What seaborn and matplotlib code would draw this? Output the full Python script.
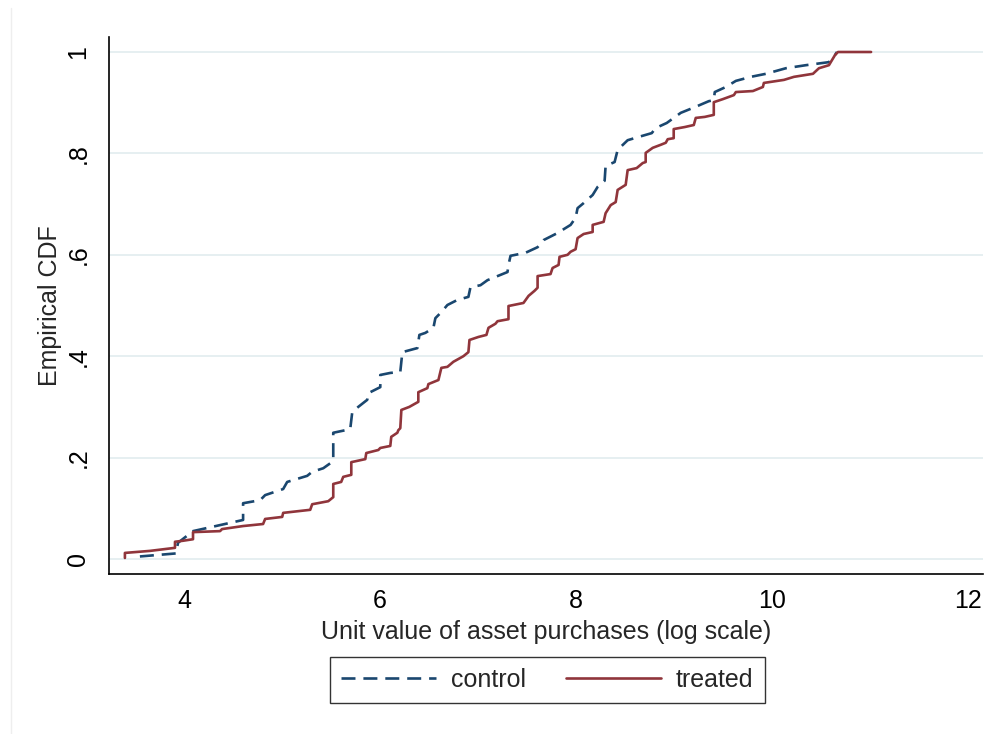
import matplotlib
matplotlib.use("Agg")
import matplotlib.pyplot as plt
from matplotlib.lines import Line2D
import seaborn as sns
import pandas as pd

# ---- data (vertices of the empirical CDF curves) ----
control_x = [3.550, 3.918, 3.939, 4.092, 4.603, 4.603, 4.777, 4.828, 5.012, 5.053,
             5.257, 5.308, 5.421, 5.523, 5.523, 5.696, 5.717, 5.778, 5.870, 5.880,
             6.003, 6.003, 6.105, 6.207, 6.228, 6.381, 6.402, 6.463, 6.545, 6.565,
             6.626, 6.688, 6.790, 6.902, 6.923, 7.025, 7.097, 7.199, 7.301, 7.311,
             7.332, 7.485, 7.608, 7.669, 7.812, 7.945, 7.996, 8.016, 8.078, 8.170,
             8.221, 8.292, 8.302, 8.394, 8.425, 8.527, 8.630, 8.773, 8.813, 8.926,
             9.069, 9.222, 9.355, 9.406, 9.416, 9.529, 9.631, 9.784, 9.938, 10.142,
             10.346, 10.581, 10.622, 10.663]
control_y = [0.005, 0.011, 0.032, 0.055, 0.077, 0.110, 0.116, 0.126, 0.138, 0.152,
             0.164, 0.172, 0.179, 0.193, 0.249, 0.256, 0.290, 0.300, 0.314, 0.327,
             0.339, 0.363, 0.367, 0.369, 0.408, 0.416, 0.442, 0.446, 0.456, 0.475,
             0.487, 0.501, 0.511, 0.517, 0.536, 0.540, 0.550, 0.558, 0.566, 0.580,
             0.598, 0.604, 0.615, 0.629, 0.643, 0.659, 0.673, 0.692, 0.702, 0.718,
             0.734, 0.746, 0.775, 0.783, 0.807, 0.826, 0.832, 0.840, 0.850, 0.860,
             0.880, 0.892, 0.903, 0.905, 0.921, 0.931, 0.943, 0.951, 0.957, 0.968,
             0.974, 0.980, 0.988, 1.000]

treated_x = [3.397, 3.397, 3.653, 3.908, 3.908, 3.990, 4.092, 4.092, 4.368, 4.388,
             4.603, 4.807, 4.828, 5.002, 5.012, 5.288, 5.308, 5.472, 5.523, 5.523,
             5.604, 5.625, 5.707, 5.707, 5.850, 5.860, 5.983, 6.003, 6.105, 6.115,
             6.177, 6.187, 6.207, 6.218, 6.299, 6.391, 6.391, 6.483, 6.494, 6.596,
             6.626, 6.688, 6.749, 6.851, 6.902, 6.913, 7.005, 7.086, 7.107, 7.178,
             7.199, 7.311, 7.311, 7.464, 7.516, 7.577, 7.608, 7.608, 7.740, 7.761,
             7.822, 7.832, 7.914, 7.945, 7.996, 8.016, 8.078, 8.170, 8.170, 8.282,
             8.302, 8.354, 8.405, 8.425, 8.507, 8.527, 8.619, 8.681, 8.711, 8.711,
             8.783, 8.865, 8.916, 8.936, 8.997, 8.997, 9.110, 9.202, 9.222, 9.314,
             9.406, 9.406, 9.498, 9.611, 9.631, 9.805, 9.907, 9.917, 10.122, 10.224,
             10.418, 10.479, 10.581, 10.612, 10.643, 10.673, 11.011]
treated_y = [0.002, 0.012, 0.016, 0.022, 0.034, 0.036, 0.039, 0.053, 0.055, 0.059,
             0.065, 0.069, 0.079, 0.083, 0.091, 0.097, 0.108, 0.114, 0.122, 0.148,
             0.152, 0.162, 0.166, 0.191, 0.197, 0.209, 0.215, 0.219, 0.223, 0.241,
             0.249, 0.254, 0.258, 0.294, 0.300, 0.310, 0.329, 0.337, 0.345, 0.353,
             0.377, 0.379, 0.389, 0.400, 0.408, 0.432, 0.438, 0.442, 0.456, 0.464,
             0.469, 0.473, 0.499, 0.505, 0.519, 0.529, 0.535, 0.558, 0.562, 0.574,
             0.580, 0.596, 0.600, 0.606, 0.611, 0.633, 0.641, 0.645, 0.659, 0.665,
             0.682, 0.698, 0.704, 0.728, 0.738, 0.767, 0.771, 0.781, 0.783, 0.801,
             0.811, 0.817, 0.821, 0.828, 0.830, 0.848, 0.852, 0.856, 0.870, 0.872,
             0.876, 0.901, 0.907, 0.915, 0.921, 0.923, 0.931, 0.939, 0.945, 0.951,
             0.957, 0.968, 0.974, 0.984, 0.994, 1.000, 1.000]

x_ticks = [4, 6, 8, 10, 12]
x_tick_labels = ["4", "6", "8", "10", "12"]
y_ticks = [0, 0.2, 0.4, 0.6, 0.8, 1.0]
y_tick_labels = ["0", ".2", ".4", ".6", ".8", "1"]
series_labels = ["control", "treated"]

# ---- style ----
sns.set_style("white")
plt.rcParams["font.family"] = ["Liberation Sans", "DejaVu Sans"]

NAVY = "#1a476f"
MAROON = "#90353b"
GRID = "#e6eff1"
FS = 18

fig = plt.figure(figsize=(9.85, 7.34), dpi=100)
ax = fig.add_axes([109 / 985, 160 / 734, (983 - 109) / 985, (574 - 37) / 734])

df_c = pd.DataFrame({"x": control_x, "y": control_y})
df_t = pd.DataFrame({"x": treated_x, "y": treated_y})

sns.lineplot(data=df_c, x="x", y="y", ax=ax, sort=False, estimator=None,
             color=NAVY, lw=1.9, dashes=(5.3, 3.0), legend=False, zorder=3)
sns.lineplot(data=df_t, x="x", y="y", ax=ax, sort=False, estimator=None,
             color=MAROON, lw=1.9, legend=False, zorder=4)

ax.set_xlim(4 - 75 / 98, 4 + 799 / 98)
ax.set_ylim(-15 / 507, 522 / 507)

ax.set_xticks(x_ticks)
ax.set_xticklabels(x_tick_labels, fontsize=FS)
ax.set_yticks(y_ticks)
ax.set_yticklabels(y_tick_labels, fontsize=FS, rotation=90, va="center")

ax.tick_params(axis="both", direction="out", length=7.5, width=1.0,
               color="black", colors="black")
ax.tick_params(axis="x", pad=3)
ax.tick_params(axis="y", pad=6)

ax.yaxis.grid(True, color=GRID, lw=1.4)
ax.xaxis.grid(False)
ax.set_axisbelow(True)

for side in ["top", "right"]:
    ax.spines[side].set_visible(False)
for side in ["left", "bottom"]:
    ax.spines[side].set_color("black")
    ax.spines[side].set_linewidth(1.2)

ax.set_xlabel("Unit value of asset purchases (log scale)", fontsize=FS, labelpad=5)
ax.set_ylabel("Empirical CDF", fontsize=FS, labelpad=3)

handles = [Line2D([], [], color=NAVY, lw=1.9, dashes=(5.3, 3.0)),
           Line2D([], [], color=MAROON, lw=1.9)]
leg = fig.legend(handles, series_labels, loc="center",
                 bbox_to_anchor=(547 / 985, 54 / 734), ncol=2, fontsize=FS,
                 frameon=True, fancybox=False, shadow=False,
                 handlelength=3.8, handletextpad=0.6, columnspacing=1.6,
                 borderpad=0.45)
leg.get_frame().set_edgecolor("black")
leg.get_frame().set_linewidth(1.0)

# faint outer frame line on the left, as in the reference
fig.add_artist(Line2D([11 / 985, 11 / 985], [0, 726 / 734], color="#eeeeee", lw=1.0))

fig.savefig("out.png", dpi=100)
